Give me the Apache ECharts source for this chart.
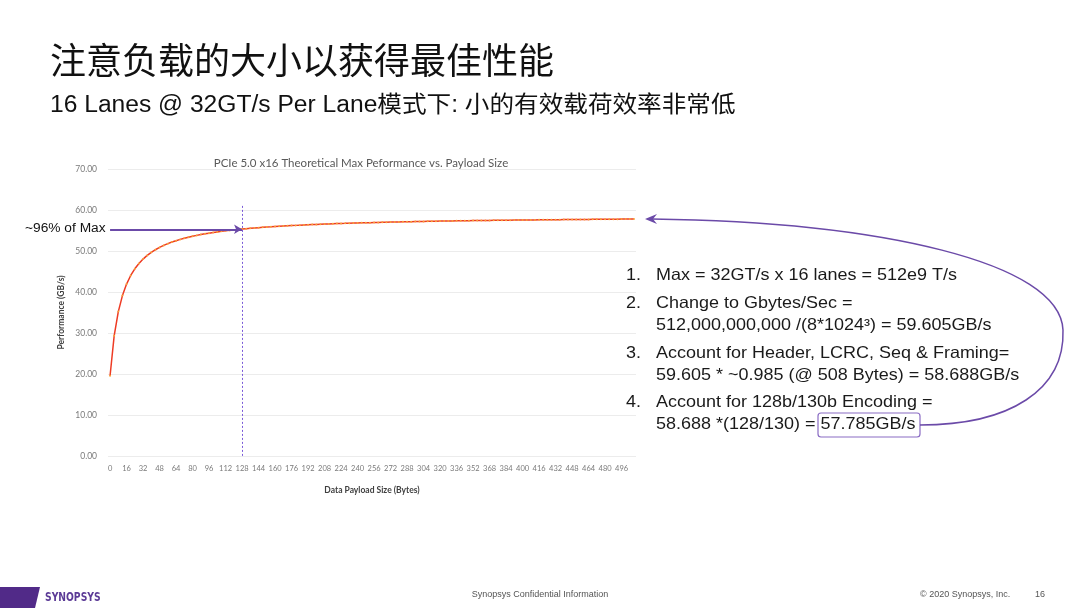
<!DOCTYPE html>
<html>
<head>
<meta charset="utf-8">
<script src="https://cdn.jsdelivr.net/npm/echarts@6/dist/echarts.min.js"></script>
<style>
html, body { margin: 0; padding: 0; background: #fff; }
#main { width: 1080px; height: 608px; }
</style>
</head>
<body>
<div id="main"></div>
<script>
// 有效载荷大小 (Bytes), 每4字节一个点
var payloadSizes = [
	'0','4','8','12','16','20','24','28','32','36','40','44','48','52','56','60',
	'64','68','72','76','80','84','88','92','96','100','104','108','112','116','120','124',
	'128','132','136','140','144','148','152','156','160','164','168','172','176','180','184','188',
	'192','196','200','204','208','212','216','220','224','228','232','236','240','244','248','252',
	'256','260','264','268','272','276','280','284','288','292','296','300','304','308','312','316',
	'320','324','328','332','336','340','344','348','352','356','360','364','368','372','376','380',
	'384','388','392','396','400','404','408','412','416','420','424','428','432','436','440','444',
	'448','452','456','460','464','468','472','476','480','484','488','492','496','500','504','508'
];
// 性能 (GB/s), 读自图片
var performance = [
	19.57,29.35,35.22,39.13,41.93,44.03,45.66,46.96,48.03,48.92,49.67,50.31,50.87,51.36,51.79,52.18,
	52.52,52.83,53.11,53.36,53.60,53.81,54.00,54.18,54.35,54.51,54.65,54.79,54.91,55.03,55.14,55.25,
	55.35,55.44,55.53,55.61,55.69,55.77,55.84,55.90,55.97,56.03,56.09,56.15,56.20,56.25,56.30,56.35,
	56.40,56.44,56.48,56.53,56.57,56.60,56.64,56.68,56.71,56.74,56.78,56.81,56.84,56.87,56.89,56.92,
	56.95,56.97,57.00,57.02,57.05,57.07,57.09,57.11,57.13,57.16,57.18,57.19,57.21,57.23,57.25,57.27,
	57.29,57.30,57.32,57.33,57.35,57.37,57.38,57.40,57.41,57.42,57.44,57.45,57.46,57.48,57.49,57.50,
	57.51,57.53,57.54,57.55,57.56,57.57,57.58,57.59,57.60,57.61,57.62,57.63,57.64,57.65,57.66,57.67,
	57.68,57.69,57.70,57.70,57.71,57.72,57.73,57.74,57.75,57.75,57.76,57.77,57.78,57.78,57.79,57.80
];
var markPayload = '128';
var markValue = 55.3;

var purple = '#6b4aa8';
var arial = '"Liberation Sans", Arial, sans-serif';

var chart = echarts.init(document.getElementById('main'));

function txt(x, y, s, size, family, color, extra) {
	var st = { text: s, fontSize: size, fontFamily: family, fill: color,
		textAlign: 'left', textVerticalAlign: 'middle' };
	var el = { type: 'text', x: x, y: y, style: st };
	for (var k in (extra || {})) {
		if (k === 'scaleX') el.scaleX = extra[k];
		else st[k] = extra[k];
	}
	return el;
}

var listLines = [
	['1.', 'Max = 32GT/s x 16 lanes = 512e9 T/s', 275],
	['2.', 'Change to Gbytes/Sec =', 303],
	['', '512,000,000,000 /(8*1024³) = 59.605GB/s', 325],
	['3.', 'Account for Header, LCRC, Seq & Framing=', 353],
	['', '59.605 * ~0.985 (@ 508 Bytes) = 58.688GB/s', 375],
	['4.', 'Account for 128b/130b Encoding =', 402],
	['', '58.688 *(128/130) = 57.785GB/s', 424]
];
var listGraphics = [];
listLines.forEach(function(l) {
	if (l[0]) listGraphics.push(txt(626, l[2], l[0], 16.5, arial, '#1a1a1a', { scaleX: 1.09 }));
	listGraphics.push(txt(656, l[2], l[1], 16.5, arial, '#1a1a1a', { scaleX: 1.09 }));
});

var option = {
	backgroundColor: '#fff',
	animation: false,
	title: {
		text: 'PCIe 5.0 x16 Theoretical Max Peformance vs. Payload Size',
		left: 356,
		top: 152,
		textAlign: 'center',
		textStyle: { fontSize: 11.5, fontWeight: 'normal', color: '#595959', fontFamily: 'Lato, "Open Sans", sans-serif' }
	},
	grid: { left: 108, right: 444, top: 169, bottom: 152 },
	xAxis: {
		type: 'category',
		data: payloadSizes,
		boundaryGap: true,
		name: 'Data Payload Size (Bytes)',
		nameLocation: 'middle',
		nameGap: 30,
		nameTextStyle: { fontSize: 8.5, fontWeight: 'bold', color: '#404040', fontFamily: 'Lato, sans-serif' },
		axisLine: { show: false },
		axisTick: { show: false },
		axisLabel: { interval: 3, fontSize: 7.5, color: '#7a7a7a', margin: 9, fontFamily: 'Lato, sans-serif' },
		splitLine: { show: false }
	},
	yAxis: {
		type: 'value',
		min: 0,
		max: 70,
		interval: 10,
		name: 'Performance (GB/s)',
		nameLocation: 'middle',
		nameGap: 42,
		nameRotate: 90,
		nameTextStyle: { fontSize: 8.5, fontWeight: 'bold', color: '#404040', fontFamily: 'Lato, sans-serif' },
		axisLine: { show: false },
		axisTick: { show: false },
		axisLabel: {
			formatter: function(v) { return v.toFixed(2); },
			fontSize: 8.5, color: '#7a7a7a', margin: 11, fontFamily: 'Lato, sans-serif'
		},
		splitLine: { lineStyle: { color: '#ececec', width: 1 } }
	},
	series: [{
		type: 'line',
		data: performance,
		smooth: false,
		symbol: 'circle',
		symbolSize: 2,
		itemStyle: { color: '#f7a23a' },
		lineStyle: { color: '#ee3b24', width: 1.5 },
		z: 3,
		markLine: {
			silent: true,
			symbol: 'none',
			label: { show: false },
			data: [
				[
					{ coord: [markPayload, 61], lineStyle: { color: '#7a5ad8', width: 1, type: [2, 2] } },
					{ coord: [markPayload, 0] }
				],
				[
					{ coord: ['0', markValue], symbol: 'none', lineStyle: { color: purple, width: 1.8, type: 'solid' } },
					{ coord: [markPayload, markValue], symbol: 'arrow', symbolSize: [7, 8] }
				]
			]
		}
	}],
	graphic: [
		txt(50, 60, '注意负载的大小以获得最佳性能', 36, '"Noto Sans CJK SC", sans-serif', '#111'),
		txt(50, 106, '16 Lanes @ 32GT/s Per Lane模式下: 小的有效载荷效率非常低', 23, '"Liberation Sans", "Noto Sans CJK SC", sans-serif', '#111', { scaleX: 1.07 }),
		txt(25, 229, '~96% of Max', 12.5, arial, '#111', { scaleX: 1.1 }),
		{ type: 'rect', shape: { x: 818, y: 413, width: 102, height: 24, r: 3 },
			style: { fill: 'none', stroke: '#8a6cc4', lineWidth: 1.2 } },
		{ type: 'bezierCurve', shape: { x1: 920, y1: 425, cpx1: 1010, cpy1: 425, cpx2: 1065, cpy2: 390, x2: 1063, y2: 330 },
			style: { fill: 'none', stroke: purple, lineWidth: 1.5 } },
		{ type: 'bezierCurve', shape: { x1: 1063, y1: 330, cpx1: 1060, cpy1: 262, cpx2: 880, cpy2: 222, x2: 652, y2: 219 },
			style: { fill: 'none', stroke: purple, lineWidth: 1.5 } },
		{ type: 'polygon', shape: { points: [[645, 219], [657, 214], [653, 219], [657, 224]] },
			style: { fill: purple } },
		{ type: 'polygon', shape: { points: [[0, 587], [40, 587], [35, 608], [0, 608]] },
			style: { fill: '#512a88' } },
		txt(45, 598, 'SYNOPSYS', 12.5, '"DejaVu Sans Condensed", sans-serif', '#5b3a96', { fontWeight: 'bold', scaleX: 0.82 }),
		txt(540, 595, 'Synopsys Confidential Information', 9, arial, '#555', { textAlign: 'center' }),
		txt(920, 595, '© 2020 Synopsys, Inc.', 9, arial, '#555'),
		txt(1035, 595, '16', 9, arial, '#555')
	].concat(listGraphics)
};

chart.setOption(option);
</script>
</body>
</html>
